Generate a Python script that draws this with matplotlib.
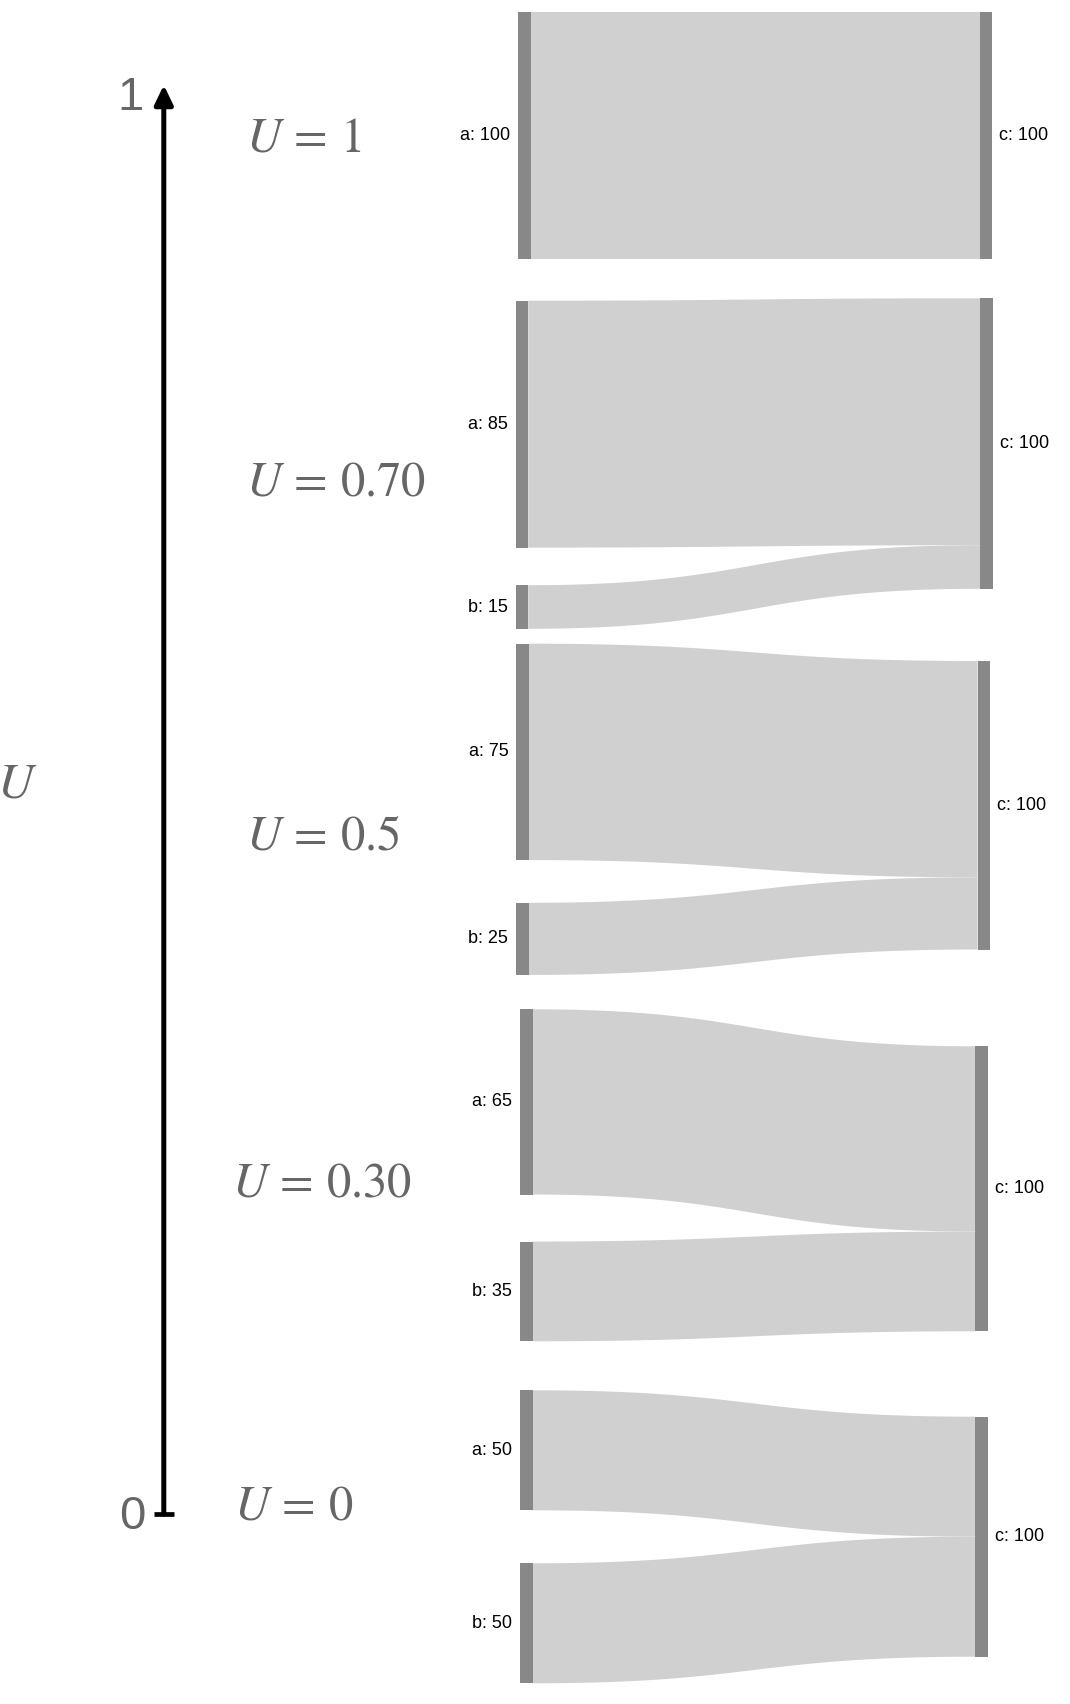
import matplotlib
matplotlib.use("Agg")
import matplotlib.pyplot as plt
import numpy as np

# ----------------------------------------------------
# Data: one sankey (a, b -> c) per value of U
# ----------------------------------------------------
U_LABELS = ["1", "0.70", "0.5", "0.30", "0"]
A_VALUES = [100, 85, 75, 65, 50]
B_VALUES = [0, 15, 25, 35, 50]
C_VALUES = [100, 100, 100, 100, 100]

# ----------------------------------------------------
# Layout (figure pixels, y grows downward)
# ----------------------------------------------------
COL_TOP = [12, 300.7, 643.7, 1009.3, 1390.3]
PX_PER_UNIT = [2.473, 2.905, 2.885, 2.85, 2.40]
NODE_GAP = [0, 37.6, 42.7, 47, 53]
RIGHT_TOP = [12, 298.3, 661, 1046.3, 1416.7]
LEFT_X = [518.3, 515.5, 516.3, 520, 520]
RIGHT_X = [979.6, 980.4, 977.6, 975.2, 975.2]
NODE_W = 12.7

U_TEXT_X = [246.5, 246.5, 246.5, 232.5, 233.5]
U_TEXT_BASE = [151.7, 496, 850, 1196.7, 1519]

NODE_COLOR = "#888888"
LINK_COLOR = "#d0d0d0"
TEXT_GRAY = "#666666"

plt.rcParams["mathtext.fontset"] = "stix"
LABEL_FONT = ["Liberation Sans", "DejaVu Sans"]

W, H = 1070, 1704
fig = plt.figure(figsize=(W / 100, H / 100), dpi=100)
ax = fig.add_axes([0, 0, 1, 1])
ax.set_xlim(0, W)
ax.set_ylim(H, 0)
ax.axis("off")


def bezier(p0, p1, p2, p3, t):
    return ((1 - t) ** 3 * p0 + 3 * (1 - t) ** 2 * t * p1
            + 3 * (1 - t) * t ** 2 * p2 + t ** 3 * p3)


def draw_link(x0, x1, s_top, s_bot, t_top, t_bot):
    t = np.linspace(0, 1, 80)
    xm = (x0 + x1) / 2
    xs = bezier(x0, xm, xm, x1, t)
    top = bezier(s_top, s_top, t_top, t_top, t)
    bot = bezier(s_bot, s_bot, t_bot, t_bot, t)
    ax.fill(np.concatenate([xs, xs[::-1]]),
            np.concatenate([top, bot[::-1]]),
            color=LINK_COLOR, lw=0, zorder=1)


def draw_node(x, top, height, label, side):
    ax.add_patch(plt.Rectangle((x, top), NODE_W, height,
                               color=NODE_COLOR, lw=0, zorder=2))
    yc = top + height / 2
    if side == "left":
        ax.text(x - 8, yc, label, ha="right", va="center",
                fontsize=13, family=LABEL_FONT, color="black")
    else:
        ax.text(x + NODE_W + 7, yc, label, ha="left", va="center",
                fontsize=13, family=LABEL_FONT, color="black")


# ----------------------------------------------------
# Sankey panels
# ----------------------------------------------------
for i in range(len(U_LABELS)):
    k = PX_PER_UNIT[i]
    lx, rx = LEFT_X[i], RIGHT_X[i]

    # right node
    c_h = C_VALUES[i] * k
    draw_node(rx, RIGHT_TOP[i], c_h, f"c: {C_VALUES[i]}", "right")

    # left nodes + links
    y = COL_TOP[i]
    ty = RIGHT_TOP[i]
    for name, val in (("a", A_VALUES[i]), ("b", B_VALUES[i])):
        if val <= 0:
            continue
        h = val * k
        draw_link(lx + NODE_W, rx, y, y + h, ty, ty + h)
        draw_node(lx, y, h, f"{name}: {val}", "left")
        ty += h
        y += h + NODE_GAP[i]

    ax.text(U_TEXT_X[i], U_TEXT_BASE[i], rf"$U\,=\,{U_LABELS[i]}$",
            ha="left", va="baseline", fontsize=35, color=TEXT_GRAY)

# ----------------------------------------------------
# U axis on the left
# ----------------------------------------------------
AXIS_X = 163.8
AXIS_Y0, AXIS_Y1 = 1514, 85

ax.annotate("", xy=(AXIS_X, AXIS_Y1), xytext=(AXIS_X, AXIS_Y0),
            arrowprops=dict(arrowstyle="-|>,head_length=1.15,head_width=0.55",
                            mutation_scale=10, lw=3.6, color="black",
                            shrinkA=0, shrinkB=0))
ax.plot([154.3, 173.9], [AXIS_Y0, AXIS_Y0], color="black", lw=3.4,
        solid_capstyle="butt")

ax.text(143.5, 110.5, "1", ha="right", va="baseline", fontsize=34,
        family=LABEL_FONT, color=TEXT_GRAY)
ax.text(145.5, 1529, "0", ha="right", va="baseline", fontsize=34,
        family=LABEL_FONT, color=TEXT_GRAY)
ax.text(-3, 797, r"$U$", ha="left", va="baseline", fontsize=36,
        color=TEXT_GRAY)

fig.savefig("out.png", dpi=100)
plt.close(fig)
